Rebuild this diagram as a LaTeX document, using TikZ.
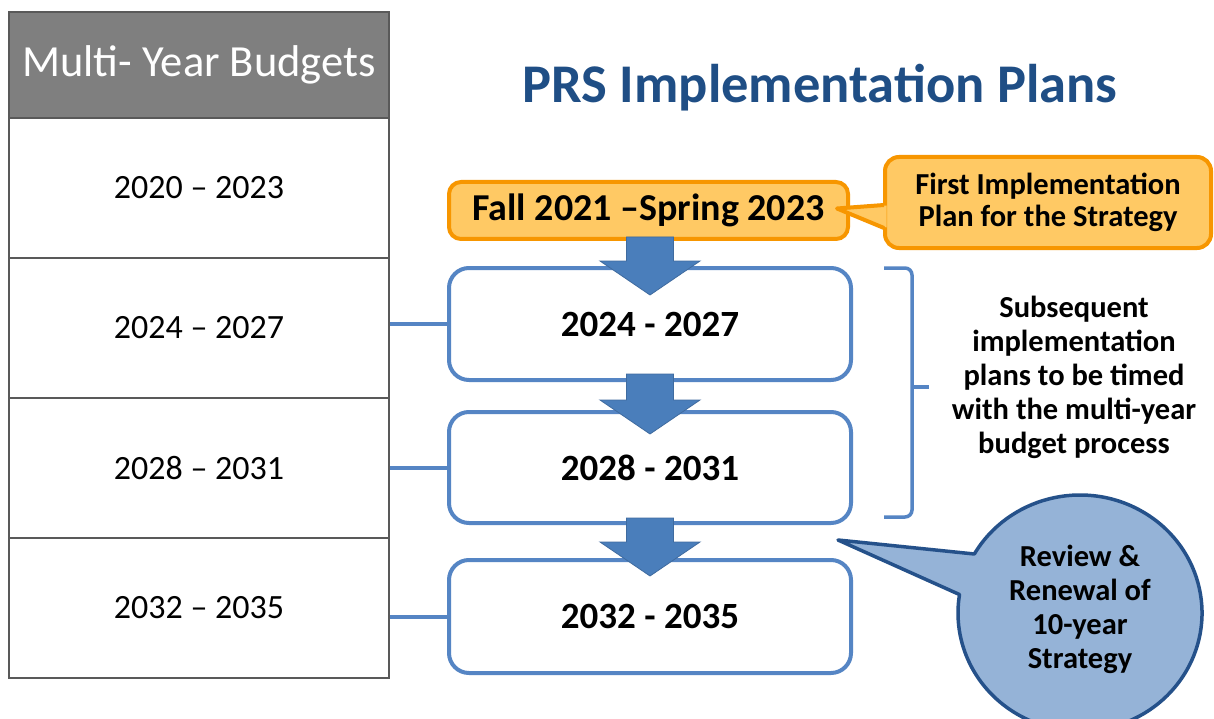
\documentclass[tikz,border=0pt]{standalone}
\usepackage{fontspec}
\setmainfont{Carlito}
\usetikzlibrary{calc}
\definecolor{hdrgray}{HTML}{7F7F7F}
\definecolor{gridgray}{HTML}{595959}
\definecolor{planblue}{HTML}{5585C4}
\definecolor{arrowblue}{HTML}{4A7EBB}
\definecolor{titleblue}{HTML}{1F4E85}
\definecolor{amberfill}{HTML}{FFC964}
\definecolor{amberline}{HTML}{F79600}
\definecolor{bubblefill}{HTML}{95B3D7}
\definecolor{bubbleline}{HTML}{25518A}

% block arrow pointing down: #1 = top of the shaft, #2 = tip
\newcommand{\flowarrow}[2]{%
  \draw[flow] let \p1=(#1), \p2=(#2) in
    (\x2-23.5pt,\y1) -- (\x2+23.5pt,\y1) -- (\x2+23.5pt,\y2+34pt) --
    (\x2+50pt,\y2+34pt) -- (\x2,\y2) -- (\x2-50pt,\y2+34pt) --
    (\x2-23.5pt,\y2+34pt) -- cycle;}

\begin{document}
\begin{tikzpicture}[x=1pt,y=1pt,
  cell/.style={draw=gridgray, line width=1.2pt, minimum width=380pt,
    minimum height=140pt, inner sep=0pt, font=\fontsize{34}{40}\selectfont},
  header/.style={cell, fill=hdrgray, minimum height=106pt, text=white,
    font=\fontsize{44.5}{50}\selectfont},
  planbox/.style={draw=planblue, line width=4pt, rounded corners=20pt,
    fill=white, minimum width=402pt, inner sep=0pt,
    font=\bfseries\fontsize{37}{42}\selectfont},
  amberbox/.style={draw=amberline, fill=amberfill, line width=4pt,
    rounded corners=12pt, minimum width=399pt, minimum height=57pt,
    inner sep=0pt, font=\bfseries\fontsize{38}{42}\selectfont},
  calloutbox/.style={draw=amberline, fill=amberfill, line width=4pt,
    rounded corners=14pt, minimum width=326pt, minimum height=91pt,
    inner sep=0pt, align=center, font=\bfseries\fontsize{30.5}{32}\selectfont},
  bubble/.style={draw=bubbleline, fill=bubblefill, line width=3.5pt, line join=round},
  note/.style={align=center, inner sep=0pt,
    font=\bfseries\fontsize{30.5}{34}\selectfont},
  link/.style={draw=planblue, line width=4pt},
  flow/.style={fill=arrowblue, draw=arrowblue!85!black, line width=0.8pt},
  brace/.style={draw=planblue, line width=3.5pt, rounded corners=7pt},
]
\path[use as bounding box] (0,0) rectangle (1214,-719);
\clip (0,0) rectangle (1214,-719);
\fill[white] (0,0) rectangle (1214,-719);

% multi-year budget table
\node[header] (hdr) at (199,-65) {Multi- Year Budgets};
\node[cell] (r1) at (199,-188) {2020 – 2023};
\node[cell] (r2) at (199,-328) {2024 – 2027};
\node[cell] (r3) at (199,-468) {2028 – 2031};
\node[cell] (r4) at (199,-608) {2032 – 2035};

% title
\node[text=titleblue, font=\bfseries\fontsize{54.5}{60}\selectfont] (title)
  at (820,-88) {PRS Implementation Plans};

% implementation plan boxes
\node[amberbox] (o) at (648.5,-210.5) {Fall 2021 –Spring 2023};
\node[planbox, minimum height=112pt] (b1) at (650,-324) {2024 - 2027};
\node[planbox, minimum height=111pt] (b2) at (650,-467.5) {2028 - 2031};
\node[planbox, minimum height=113pt] (b3) at (650,-616.5) {2032 - 2035};

% links from the budget rows
\draw[link] (b1.west) -- (b1.west -| r2.east);
\draw[link] (b2.west) -- (b2.west -| r3.east);
\draw[link] (b3.west) -- (b3.west -| r4.east);

% flow arrows between plans
\coordinate (a1s) at ($(o.south)+(0,4)$);
\coordinate (a1t) at ($(b1.north)+(0,-29)$);
\coordinate (a2s) at ($(b1.south)+(0,8)$);
\coordinate (a2t) at ($(b2.north)+(0,-24)$);
\coordinate (a3s) at ($(b2.south)+(0,7)$);
\coordinate (a3t) at ($(b3.north)+(0,-18)$);
\flowarrow{a1s}{a1t}
\flowarrow{a2s}{a2t}
\flowarrow{a3s}{a3t}

% bracket grouping the subsequent plans
\coordinate (brtop) at (884,-268);
\coordinate (brbot) at (884,-517);
\draw[brace] (brtop) -- (912,-268) -- (912,-517) -- (brbot);
\draw[draw=planblue, line width=3.5pt] (912,-387) -- (929,-387);
\node[note] (subs) at (1074,-377)
  {Subsequent\\implementation\\plans to be timed\\with the multi-year\\budget process};

% callout for the first plan, with its pointer towards the amber box
\node[calloutbox] (first) at (1048,-202.5) {First Implementation\\Plan for the Strategy};
\coordinate (ftip) at ($(o.east)+(-13,2)$);
\fill[amberfill] (ftip) -- ($(first.west)+(3.5,-3)$) -- ($(first.west)+(3.5,-25)$) -- cycle;
\draw[draw=amberline, line width=4pt, line join=round]
  ($(first.west)+(1,-2.5)$) -- (ftip) -- ($(first.west)+(1,-25.5)$);

% review bubble
\draw[bubble] (838,-540) -- ($(1080,-613)+(150:122pt and 118pt)$)
  arc[start angle=150, end angle=-189, x radius=122pt, y radius=118pt] -- cycle;
\node[note] (review) at (1080,-609) {Review \&\\Renewal of\\10-year\\Strategy};
\end{tikzpicture}
\end{document}
